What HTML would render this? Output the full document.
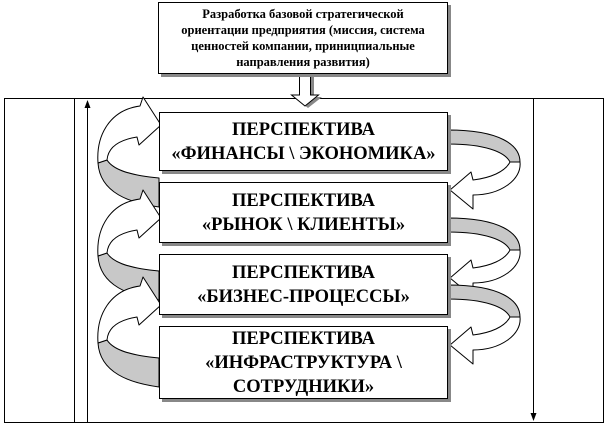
<!DOCTYPE html>
<html><head><meta charset="utf-8"><style>
html,body{margin:0;padding:0;background:#fff;}
body{width:606px;height:426px;position:relative;overflow:hidden;font-family:"Liberation Serif",serif;}
.b{position:absolute;background:#fff;border:1px solid #000;box-shadow:3px 3px 0 #888;display:flex;align-items:center;justify-content:center;text-align:center;font-weight:bold;box-sizing:border-box;white-space:nowrap;}
.p{font-size:18.5px;line-height:24px;}
</style></head><body>
<svg width="606" height="426" style="position:absolute;left:0;top:0">
<rect x="4.5" y="98.5" width="599" height="324" fill="none" stroke="#000"/>
<line x1="74.5" y1="98" x2="74.5" y2="423" stroke="#000"/>
<line x1="87.5" y1="106" x2="87.5" y2="423" stroke="#000"/>
<polygon points="87.5,100 84.5,108 90.5,108" fill="#000"/>
<line x1="533.5" y1="98" x2="533.5" y2="414" stroke="#000"/>
<polygon points="533.5,421 530.5,413 536.5,413" fill="#000"/>
<polygon points="302,75 314,75 314,97 322,97 308,108 294,97 302,97" fill="#888"/>
<polygon points="299.5,74 310.5,74 310.5,95 318.5,95 305,106 291.5,95 299.5,95" fill="#fff" stroke="#000"/>
<g stroke="#000" stroke-width="1" stroke-linejoin="round">
<g id="L">
<path d="M98,163 C100,193 130,203 159,207 L159,178 C125,175 112,168 107,160 Z" fill="#c8c8c8"/>
<path d="M98,163 C96,135 110,110 140,106 L143,97 L161,125 L139,145 L137,137 C118,140 108,148 107,160 Z" fill="#fff"/>
</g>
<use href="#L" transform="translate(0,93)"/>
<use href="#L" transform="translate(0,180)"/>
<g id="R">
<path d="M448,130 C500,130 520,145 520,162 L510,162 C505,152 485,144 448,144 Z" fill="#c8c8c8"/>
<path d="M510,162 C505,172 490,178 473,180 L471,172 L450,190 L473,209 L473,195 C500,195 522,180 520,162 Z" fill="#fff"/>
</g>
<use href="#R" transform="translate(0,88)"/>
<use href="#R" transform="translate(0,155)"/>
</g>
</svg>
<div class="b" style="left:158px;top:2px;width:290px;height:72px;font-size:12.5px;line-height:16px;">Разработка базовой стратегической<br>ориентации предприятия (миссия, система<br>ценностей компании, приницпиальные<br>направления развития)</div>
<div class="b p" style="left:159px;top:112px;width:289px;height:59px;">ПЕРСПЕКТИВА<br>«ФИНАНСЫ \ ЭКОНОМИКА»</div>
<div class="b p" style="left:159px;top:182px;width:289px;height:61px;">ПЕРСПЕКТИВА<br>«РЫНОК \ КЛИЕНТЫ»</div>
<div class="b p" style="left:159px;top:254px;width:289px;height:61px;">ПЕРСПЕКТИВА<br>«БИЗНЕС-ПРОЦЕССЫ»</div>
<div class="b p" style="left:159px;top:326px;width:289px;height:73px;">ПЕРСПЕКТИВА<br>«ИНФРАСТРУКТУРА \<br>СОТРУДНИКИ»</div>
</body></html>
